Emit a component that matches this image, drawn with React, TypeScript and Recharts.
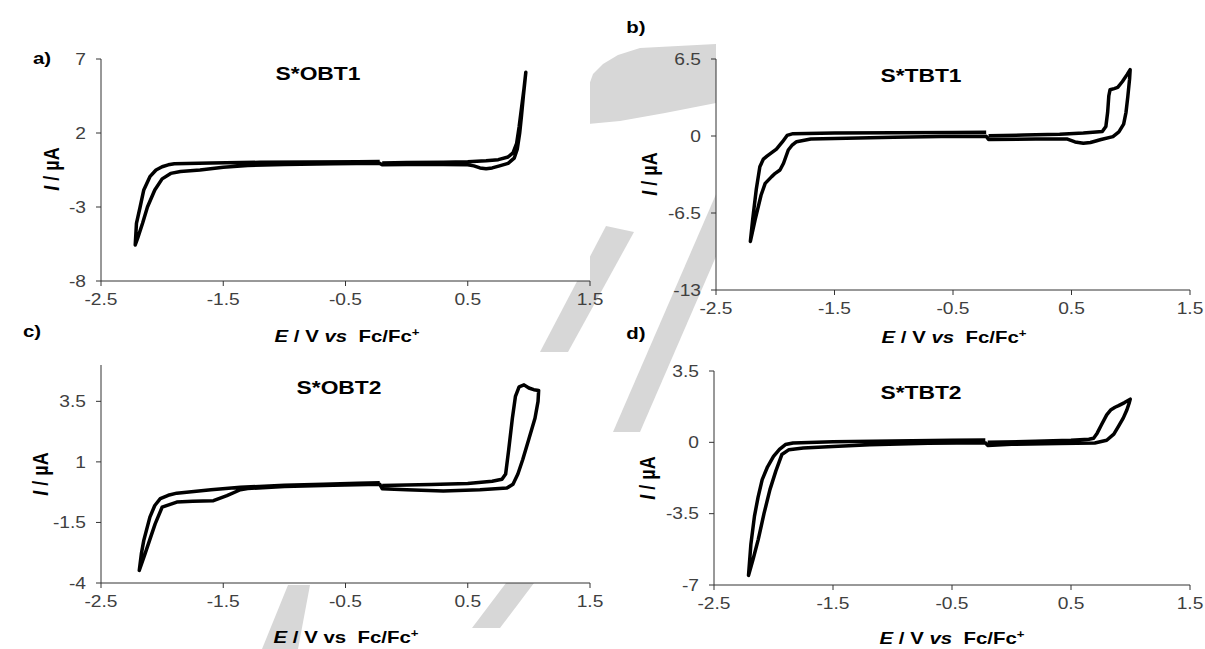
import React from "react";
import { LineChart, Line, XAxis, YAxis } from "recharts";

const eTicks = [-2.5, -1.5, -0.5, 0.5, 1.5];

// S*OBT1 (a)
const obt1E = [
  -0.2, 0.0, 0.3, 0.5, 0.65, 0.75, 0.83, 0.87, 0.9, 0.92, 0.94, 0.96, 0.975,
  0.97, 0.955, 0.94, 0.925, 0.905, 0.88, 0.83, 0.76, 0.7, 0.65, 0.6, 0.55, 0.5, 0.3, 0.0, -0.2,
  -0.22, -0.6, -1.0, -1.3, -1.5, -1.69, -1.85, -1.93, -2.0, -2.06, -2.12, -2.16, -2.2, -2.22,
  -2.21, -2.18, -2.15, -2.1, -2.05, -2.0, -1.95, -1.9, -1.6, -1.2, -0.8, -0.4, -0.22,
];
const obt1I = [
  -0.02, 0.0, 0.03, 0.06, 0.12, 0.2, 0.38, 0.65, 1.3, 2.4, 3.7, 5.0, 6.1,
  5.7, 4.5, 3.2, 2.0, 0.9, 0.3, -0.05, -0.22, -0.36, -0.42, -0.36, -0.22, -0.14, -0.13, -0.12, -0.14,
  -0.05, -0.08, -0.12, -0.2, -0.32, -0.5, -0.6, -0.73, -1.1, -1.85, -3.0, -4.1, -5.1, -5.57,
  -4.1, -3.0, -1.85, -0.95, -0.5, -0.28, -0.15, -0.08, -0.02, 0.02, 0.04, 0.06, 0.07,
];
const obt1Ticks = [-8, -3, 2, 7];

// S*TBT1 (b)
const tbt1E = [
  -0.2, 0.1, 0.4, 0.6, 0.76, 0.79, 0.805, 0.815, 0.825, 0.86, 0.89, 0.93, 0.97, 0.995,
  0.99, 0.975, 0.96, 0.94, 0.9, 0.85, 0.75, 0.66, 0.6, 0.53, 0.46, 0.2, -0.2,
  -0.22, -0.6, -1.0, -1.4, -1.7, -1.82, -1.86, -1.89, -1.93, -1.96, -2.0, -2.03, -2.085, -2.12, -2.17, -2.21,
  -2.19, -2.16, -2.13, -2.1, -2.07, -2.03, -1.99, -1.94, -1.9, -1.85, -1.5, -1.0, -0.5, -0.22,
];
const tbt1I = [
  0.02, 0.08, 0.15, 0.25, 0.38, 0.8, 2.0, 3.4, 3.9, 4.0, 4.1, 4.6, 5.2, 5.6,
  4.8, 3.3, 2.0, 1.0, 0.35, -0.05, -0.3, -0.55, -0.62, -0.5, -0.25, -0.25, -0.3,
  -0.02, -0.05, -0.1, -0.18, -0.26, -0.48, -0.8, -1.18, -2.3, -2.87, -3.15, -3.43, -4.0, -5.0, -7.08, -8.9,
  -7.0, -4.5, -2.6, -1.95, -1.7, -1.4, -1.1, -0.5, 0.05, 0.2, 0.25, 0.27, 0.3, 0.32,
];
const tbt1Ticks = [-13, -6.5, 0, 6.5];

// S*OBT2 (c)
const obt2E = [
  -0.2, 0.2, 0.5, 0.7, 0.78, 0.81, 0.835, 0.865, 0.89, 0.92, 0.96, 1.0, 1.04, 1.08,
  1.075, 1.05, 1.0, 0.95, 0.91, 0.87, 0.82, 0.6, 0.3, 0.0, -0.2,
  -0.22, -0.6, -1.0, -1.3, -1.36, -1.47, -1.58, -1.75, -1.88, -2.0, -2.057, -2.1, -2.14, -2.187,
  -2.17, -2.15, -2.1, -2.06, -2.015, -1.95, -1.88, -1.6, -1.36, -1.0, -0.68, -0.4, -0.22,
];
const obt2I = [
  0.03, 0.07, 0.11, 0.2, 0.28, 0.5, 1.5, 2.8, 3.7, 4.1, 4.18, 4.05, 3.98, 3.95,
  3.5, 2.8, 1.95, 1.1, 0.5, 0.08, -0.08, -0.15, -0.2, -0.15, -0.11,
  0.08, 0.04, -0.02, -0.1, -0.15, -0.39, -0.6, -0.63, -0.66, -0.87, -1.56, -2.2, -2.8, -3.48,
  -2.8, -2.24, -1.28, -0.8, -0.52, -0.38, -0.29, -0.15, -0.05, 0.04, 0.08, 0.12, 0.14,
];
const obt2Ticks = [-4, -1.5, 1, 3.5];

// S*TBT2 (d)
const tbt2E = [
  -0.2, 0.2, 0.5, 0.65, 0.69, 0.72, 0.755, 0.8, 0.836, 0.87, 0.9, 0.95, 0.998,
  0.99, 0.97, 0.94, 0.9, 0.86, 0.8, 0.7, 0.4, 0.0, -0.2,
  -0.22, -0.7, -1.19, -1.5, -1.75, -1.87, -1.93, -1.98, -2.03, -2.08, -2.128, -2.17, -2.21,
  -2.19, -2.16, -2.13, -2.095, -2.05, -2.0, -1.95, -1.9, -1.836, -1.5, -1.0, -0.5, -0.22,
];
const tbt2I = [
  0.0, 0.05, 0.1, 0.15, 0.2, 0.45, 0.85, 1.35, 1.6, 1.72, 1.8, 1.95, 2.12,
  1.95, 1.6, 1.2, 0.8, 0.4, 0.1, -0.03, -0.06, -0.1, -0.15,
  -0.02, -0.05, -0.12, -0.2, -0.28, -0.36, -0.6, -1.4, -2.32, -3.5, -4.76, -5.7, -6.53,
  -5.0, -3.62, -2.7, -1.83, -1.2, -0.69, -0.35, -0.11, -0.03, 0.03, 0.07, 0.1, 0.12,
];
const tbt2Ticks = [-7, -3.5, 0, 3.5];

const zip = (e: number[], i: number[]) => e.map((v, k) => ({ E: v, I: i[k] }));

const YW = 60;
const XH = 32;
const MT = 10;
const MR = 30;
// the figure's lettering is a little wider than plain Arial
const SX = 1.2;

// plot boxes (left, top, width, height)
const boxA = [101, 59, 489, 222];
const boxB = [716, 59, 474, 231];
const boxC = [101, 365, 489, 218];
const boxD = [714, 371, 476, 214];

// light grey watermark fragments visible between the panels
const watermark = [
  "720,185 747,185 640,432 613,432",
  "588,124 588,88 593,74 603,64 618,55 640,48 716,44 716,103 665,113 620,121",
  "606,226 634,232 568,352 540,352",
  "288,585 310,585 298,649 262,649",
  "506,583 534,583 500,628 472,628",
];

const XTick = (props: any) => {
  const { x, y, payload } = props;
  return (
    <g transform={`translate(${x},${y})`}>
      <text transform={`scale(${SX},1)`} textAnchor="middle" dy="0.71em" fill="#404040" fontSize={16}>
        {payload.value}
      </text>
    </g>
  );
};

const YTick = (props: any) => {
  const { x, y, payload } = props;
  return (
    <g transform={`translate(${x},${y})`}>
      <text transform={`scale(${SX},1)`} textAnchor="end" dy="0.355em" fill="#404040" fontSize={16}>
        {payload.value}
      </text>
    </g>
  );
};

type PanelProps = {
  data: { E: number; I: number }[];
  yDomain: [number, number];
  yTicks: number[];
  box: number[];
};

const CvPanel = ({ data, yDomain, yTicks, box }: PanelProps) => {
  const [left, top, plotW, plotH] = box;
  return (
    <div style={{ position: "absolute", left: left - YW, top: top - MT }}>
      <LineChart
        width={YW + plotW + MR}
        height={MT + plotH + XH}
        data={data}
        margin={{ top: MT, right: MR, bottom: 0, left: 0 }}
      >
        <XAxis
          type="number"
          dataKey="E"
          domain={[-2.5, 1.5]}
          ticks={eTicks}
          interval={0}
          height={XH}
          stroke="#333"
          tickSize={5}
          tickMargin={8}
          tick={<XTick />}
        />
        <YAxis
          type="number"
          domain={yDomain}
          ticks={yTicks}
          interval={0}
          width={YW}
          stroke="#333"
          tickSize={5}
          tickMargin={10}
          tick={<YTick />}
        />
        <Line
          type="linear"
          dataKey="I"
          stroke="#000"
          strokeWidth={3.5}
          strokeLinejoin="round"
          dot={false}
          activeDot={false}
          isAnimationActive={false}
        />
      </LineChart>
    </div>
  );
};

const centered = (x: number, y: number, size: number, extra: React.CSSProperties = {}): React.CSSProperties => ({
  position: "absolute",
  left: x,
  top: y,
  transform: `translate(-50%, -50%) scaleX(${SX})`,
  whiteSpace: "nowrap",
  fontWeight: "bold",
  fontSize: size,
  lineHeight: 1,
  color: "#000",
  ...extra,
});

const YTitle = ({ x, y }: { x: number; y: number }) => (
  <div style={centered(x, y, 18, { transform: `translate(-50%, -50%) scaleX(${SX}) rotate(-90deg)` })}>
    <i>I</i> / µA
  </div>
);

const XTitle = ({ x, y, italicVs = true }: { x: number; y: number; italicVs?: boolean }) => (
  <div style={centered(x, y, 17)}>
    <i>E</i> / V {italicVs ? <i>vs</i> : "vs"}&nbsp; Fc/Fc<sup style={{ fontSize: 11 }}>+</sup>
  </div>
);

const App = () => {
  return (
    <div
      style={{
        position: "absolute",
        left: 0,
        top: 0,
        width: 1205,
        height: 649,
        background: "#fff",
        fontFamily: "'Liberation Sans', Arial, sans-serif",
        overflow: "hidden",
      }}
    >
      <svg width={1205} height={649} style={{ position: "absolute", left: 0, top: 0 }}>
        {watermark.map((p, k) => (
          <polygon key={k} points={p} fill="#d7d7d7" />
        ))}
        {[boxA, boxB, boxC, boxD].map((b, k) => (
          <rect key={k} x={b[0]} y={b[1]} width={b[2]} height={b[3]} fill="#fff" />
        ))}
      </svg>

      <CvPanel data={zip(obt1E, obt1I)} yDomain={[-8, 7]} yTicks={obt1Ticks} box={boxA} />
      <CvPanel data={zip(tbt1E, tbt1I)} yDomain={[-13, 6.5]} yTicks={tbt1Ticks} box={boxB} />
      <CvPanel data={zip(obt2E, obt2I)} yDomain={[-4, 5]} yTicks={obt2Ticks} box={boxC} />
      <CvPanel data={zip(tbt2E, tbt2I)} yDomain={[-7, 3.5]} yTicks={tbt2Ticks} box={boxD} />

      <div style={centered(42, 58, 17)}>a)</div>
      <div style={centered(636, 27, 17)}>b)</div>
      <div style={centered(32, 331, 17)}>c)</div>
      <div style={centered(636, 333, 17)}>d)</div>

      <div style={centered(318, 73, 19)}>S*OBT1</div>
      <div style={centered(921, 75, 19)}>S*TBT1</div>
      <div style={centered(339, 387, 19)}>S*OBT2</div>
      <div style={centered(921, 392, 19)}>S*TBT2</div>

      <YTitle x={52} y={169} />
      <YTitle x={650} y={174} />
      <YTitle x={41} y={474} />
      <YTitle x={648} y={478} />

      <XTitle x={347} y={336} />
      <XTitle x={954} y={337} />
      <XTitle x={346} y={637} italicVs={false} />
      <XTitle x={952} y={638} />
    </div>
  );
};

export default App;
